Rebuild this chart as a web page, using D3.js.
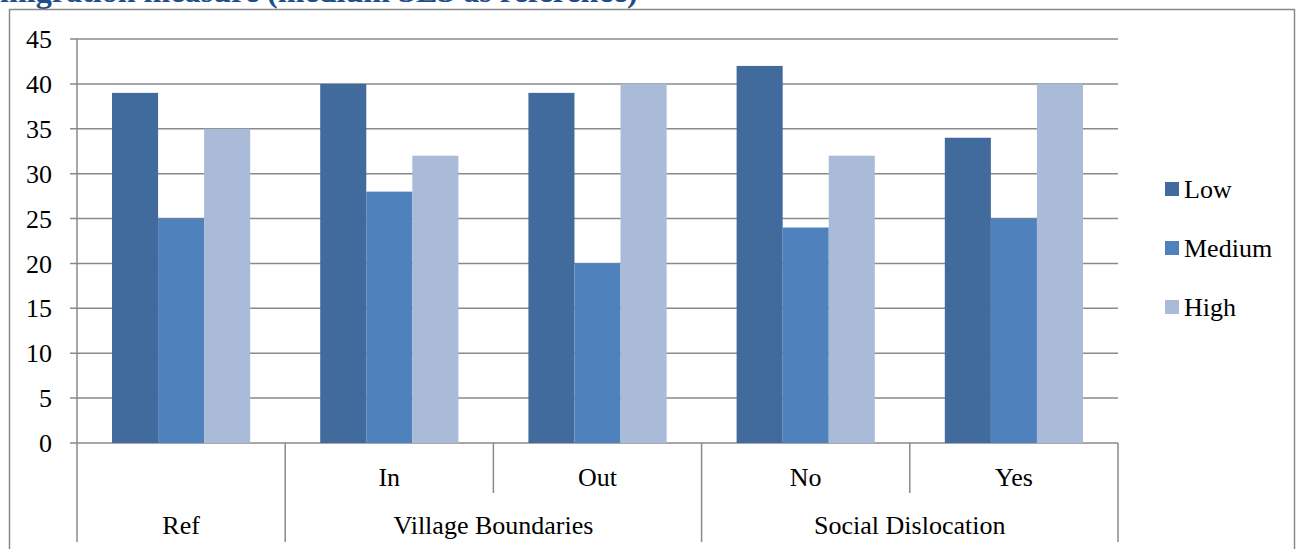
<!DOCTYPE html>
<html>
<head>
<meta charset="utf-8">
<script src="https://cdn.jsdelivr.net/npm/d3@7"></script>
<style>
  body { margin: 0; background: #fff; }
  svg { display: block; }
  text { font-family: "Liberation Serif", "Times New Roman", "DejaVu Serif", serif; fill: #000; }
</style>
</head>
<body>
<script>
// chart data
let groups = ["Ref", "Village Boundaries", "Village Boundaries", "Social Dislocation", "Social Dislocation"]
let categories = ["", "In", "Out", "No", "Yes"]
let seriesNames = ["Low", "Medium", "High"]
let low = [39, 40, 39, 42, 34]
let medium = [25, 28, 20, 24, 25]
let high = [35, 32, 40, 32, 40]
let yTicks = [0, 5, 10, 15, 20, 25, 30, 35, 40, 45]
let colors = ["#416a9d", "#4f81bd", "#aabbd9"]

let width = 1296, height = 549
let fontSize = "26px"
let svg = d3.select("body").append("svg")
            .attr("width", width)
            .attr("height", height)

// clipped title at the very top
let title = svg.append("text")
   .attr("x", 0)
   .attr("y", 2)
   .style("font-weight", "bold")
   .style("fill", "#1f4e8c")
   .style("font-size", "24px")
   .text("migration measure (medium SES as reference)")
let tw = title.node().getComputedTextLength()
title.style("font-size", (24 * 638 / tw) + "px")

// outer chart frame
svg.append("rect")
   .attr("x", 9.5).attr("y", 9.5)
   .attr("width", 1285).attr("height", 560)
   .attr("fill", "none")
   .attr("stroke", "#898989")
   .attr("stroke-width", 1.5)

let plot = { left: 77, right: 1118, top: 39, bottom: 443 }

let x = d3.scaleBand()
          .domain(d3.range(categories.length))
          .range([plot.left, plot.right])
          .paddingInner(0)
          .paddingOuter(0)

let xSeries = d3.scaleBand()
                .domain(seriesNames)
                .range([0, x.bandwidth()])
                .paddingOuter(0.76)
                .paddingInner(0)

let y = d3.scaleLinear()
          .domain([0, 45])
          .range([plot.bottom, plot.top])

// gridlines (with small ticks outside the axis)
let grid = svg.append("g")
grid.selectAll("line")
    .data(yTicks)
    .enter()
    .append("line")
    .attr("x1", plot.left - 7)
    .attr("x2", plot.right)
    .attr("y1", d => y(d))
    .attr("y2", d => y(d))
    .attr("stroke", "#8a8a8a")
    .attr("stroke-width", 1.5)

// y labels
let yAxis = d3.axisLeft(y).tickValues(yTicks).tickSize(0).tickPadding(25)
let ya = svg.append("g")
   .attr("transform", `translate(${plot.left}, 0)`)
   .attr("font-family", null)
   .attr("font-size", null)
   .call(yAxis)
ya.select(".domain").remove()
ya.selectAll("text")
  .style("font-size", fontSize)
  .attr("dy", "0.33em")

// value axis line
svg.append("line")
   .attr("x1", plot.left).attr("x2", plot.left)
   .attr("y1", plot.top).attr("y2", plot.bottom)
   .attr("stroke", "#8a8a8a").attr("stroke-width", 1.5)

// bars
let series = [low, medium, high]
series.forEach((vals, si) => {
  svg.append("g").selectAll("rect")
     .data(vals)
     .enter()
     .append("rect")
     .attr("x", (d, i) => x(i) + xSeries(seriesNames[si]))
     .attr("width", xSeries.bandwidth())
     .attr("y", d => y(d))
     .attr("height", d => y(0) - y(d))
     .attr("fill", colors[si])
})

// multi level category axis
let axisG = svg.append("g")
let row1 = plot.bottom + 50, row2 = plot.bottom + 99
let bounds = d3.range(categories.length + 1)
bounds.forEach(i => {
  let bx = i < categories.length ? x(i) : plot.right
  // a tick is short when both sides belong to the same group
  let same = i > 0 && i < categories.length && groups[i] === groups[i - 1]
  axisG.append("line")
       .attr("x1", bx).attr("x2", bx)
       .attr("y1", plot.bottom).attr("y2", same ? row1 : row2)
       .attr("stroke", "#8a8a8a").attr("stroke-width", 1.5)
})

axisG.selectAll("text.cat")
     .data(categories)
     .enter()
     .append("text")
     .attr("class", "cat")
     .attr("x", (d, i) => x(i) + x.bandwidth() / 2)
     .attr("y", plot.bottom + 43)
     .attr("text-anchor", "middle")
     .style("font-size", fontSize)
     .text(d => d)

// group labels centred over their span
let groupNames = Array.from(new Set(groups))
groupNames.forEach(g => {
  let idx = groups.map((d, i) => d === g ? i : -1).filter(i => i >= 0)
  let x0 = x(idx[0]), x1 = x(idx[idx.length - 1]) + x.bandwidth()
  axisG.append("text")
       .attr("x", (x0 + x1) / 2)
       .attr("y", plot.bottom + 91)
       .attr("text-anchor", "middle")
       .style("font-size", fontSize)
       .text(g)
})

// legend
let legend = svg.append("g")
seriesNames.forEach((s, i) => {
  let ly = 189 + i * 59
  legend.append("rect")
        .attr("x", 1165).attr("y", ly - 7)
        .attr("width", 14).attr("height", 14)
        .attr("fill", colors[i])
  legend.append("text")
        .attr("x", 1184).attr("y", ly + 9)
        .style("font-size", fontSize)
        .text(s)
})
</script>
</body>
</html>
